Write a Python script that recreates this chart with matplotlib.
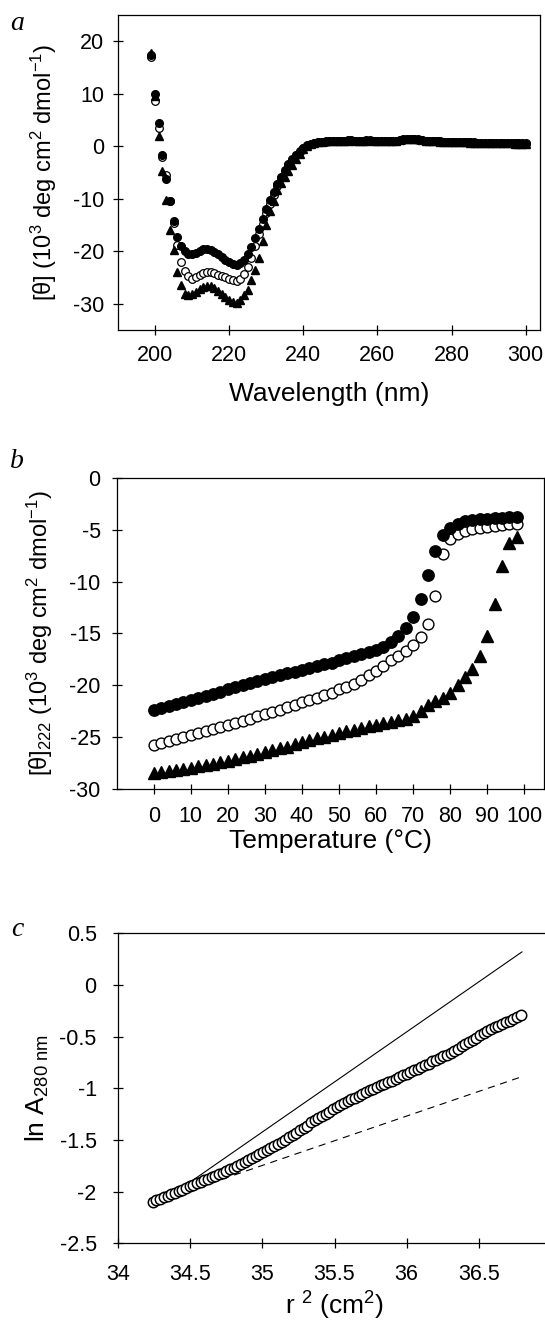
import numpy as np
import matplotlib
matplotlib.use('Agg')
import matplotlib.pyplot as plt
from matplotlib.ticker import FuncFormatter

plt.rcParams['font.family'] = ['Liberation Sans', 'DejaVu Sans']
plt.rcParams['mathtext.fontset'] = 'custom'
plt.rcParams['mathtext.rm'] = 'Liberation Sans'
plt.rcParams['mathtext.it'] = 'Liberation Sans:italic'
plt.rcParams['axes.unicode_minus'] = False

# ---- panel a: CD spectra ----
wavelength = np.arange(199, 301)
theta_filled = [17.4, 9.9, 4.4, -1.7, -6.3, -10.5, -14.3, -17.3, -19.0, -20.0,
                -20.5, -20.6, -20.3, -19.9, -19.6, -19.5, -19.7, -20.1, -20.6, -21.1,
                -21.6, -22.1, -22.5, -22.6, -22.3, -21.7, -20.6, -19.2, -17.5, -15.7,
                -13.8, -12.0, -10.3, -8.7, -7.2, -5.8, -4.5, -3.4, -2.4, -1.6,
                -0.9, -0.3, 0.2, 0.5, 0.7, 0.8,
                0.9, 1.0, 1.0, 1.1, 1.1, 1.1, 1.1, 1.2, 1.2, 1.1,
                1.1, 1.1, 1.2, 1.2, 1.1, 1.1, 1.1, 1.0, 1.0, 1.1,
                1.1, 1.2, 1.3, 1.3, 1.4, 1.4, 1.3, 1.2, 1.1, 1.1,
                1.0, 1.0, 1.0, 0.9, 0.9, 0.9, 0.9, 0.8, 0.8, 0.8,
                0.8, 0.8, 0.7, 0.7, 0.7, 0.7, 0.7, 0.7, 0.6, 0.6,
                0.6, 0.6, 0.6, 0.6, 0.6, 0.6]
theta_open = [17.0, 8.6, 3.5, -2.0, -5.5, -10.5, -14.6, -18.8, -22.0, -23.8,
              -24.8, -25.2, -25.0, -24.6, -24.2, -24.0, -24.0, -24.2, -24.5, -24.8,
              -25.0, -25.3, -25.5, -25.6, -25.2, -24.3, -23.0, -21.2, -19.0, -16.8,
              -14.8, -12.8, -11.0, -9.2, -7.6, -6.1, -4.8, -3.6, -2.6, -1.7,
              -1.0, -0.4, 0.1, 0.5, 0.7, 0.8,
              0.9, 0.9, 1.0, 1.0, 1.1, 1.1, 1.1, 1.1, 1.1, 1.1,
              1.1, 1.1, 1.1, 1.1, 1.1, 1.0, 1.0, 1.0, 1.0, 1.1,
              1.1, 1.2, 1.2, 1.3, 1.3, 1.3, 1.2, 1.2, 1.1, 1.0,
              1.0, 1.0, 0.9, 0.9, 0.9, 0.9, 0.8, 0.8, 0.8, 0.8,
              0.8, 0.7, 0.7, 0.7, 0.7, 0.7, 0.7, 0.6, 0.6, 0.6,
              0.6, 0.6, 0.6, 0.6, 0.5, 0.5]
theta_tri = [17.8, 9.5, 1.9, -4.8, -10.2, -16.0, -19.8, -23.9, -26.5, -28.1,
             -28.3, -28.2, -27.8, -27.2, -26.8, -26.6, -26.7, -27.0, -27.6, -28.2,
             -28.8, -29.3, -29.7, -29.8, -29.3, -28.4, -27.4, -25.5, -23.5, -21.2,
             -18.0, -15.0, -12.4, -10.4, -8.4, -7.0, -5.8, -4.8, -3.6, -2.5,
             -1.5, -0.6, 0.0, 0.4, 0.6, 0.8,
             0.9, 1.0, 1.0, 1.0, 1.1, 1.1, 1.1, 1.1, 1.2, 1.1,
             1.1, 1.1, 1.1, 1.2, 1.1, 1.1, 1.0, 1.0, 1.0, 1.1,
             1.1, 1.2, 1.3, 1.4, 1.4, 1.3, 1.3, 1.2, 1.1, 1.0,
             1.0, 1.0, 0.9, 0.9, 0.9, 0.9, 0.8, 0.8, 0.8, 0.8,
             0.7, 0.7, 0.7, 0.7, 0.7, 0.7, 0.6, 0.6, 0.6, 0.6,
             0.6, 0.6, 0.5, 0.5, 0.5, 0.5]

# ---- panel b: thermal melts at 222 nm ----
temperature = np.arange(0, 100, 2)
melt_filled = [-22.4, -22.2, -22.0, -21.8, -21.6, -21.4, -21.2, -21.0, -20.8, -20.6,
               -20.4, -20.2, -20.0, -19.8, -19.6, -19.4, -19.2, -19.0, -18.8, -18.7,
               -18.5, -18.3, -18.1, -17.9, -17.8, -17.6, -17.4, -17.2, -17.0, -16.8,
               -16.6, -16.3, -15.8, -15.2, -14.45, -13.45, -11.7, -9.35, -7.05, -5.55,
               -4.85, -4.4, -4.2, -4.1, -4.0, -3.95, -3.9, -3.85, -3.8, -3.75]
melt_open = [-25.8, -25.6, -25.4, -25.2, -25.0, -24.8, -24.6, -24.4, -24.2, -24.0,
             -23.8, -23.6, -23.4, -23.2, -23.0, -22.8, -22.6, -22.4, -22.1, -21.9,
             -21.6, -21.4, -21.2, -20.9, -20.7, -20.4, -20.2, -19.9, -19.5, -19.0,
             -18.6, -18.1, -17.6, -17.2, -16.7, -16.1, -15.3, -14.1, -11.4, -7.3,
             -5.9, -5.4, -5.1, -4.9, -4.8, -4.7, -4.6, -4.5, -4.45, -4.4]
melt_tri = [-28.5, -28.4, -28.3, -28.2, -28.1, -28.0, -27.8, -27.7, -27.6, -27.4,
            -27.3, -27.1, -26.9, -26.8, -26.6, -26.4, -26.2, -26.0, -25.9, -25.7,
            -25.5, -25.3, -25.1, -25.0, -24.8, -24.6, -24.4, -24.3, -24.1, -23.9,
            -23.8, -23.6, -23.5, -23.3, -23.2, -23.0, -22.5, -21.9, -21.5, -21.2,
            -20.7, -20.0, -19.2, -18.4, -17.2, -15.2, -12.2, -8.5, -6.3, -5.7]

# ---- panel c: sedimentation equilibrium ----
r2 = np.linspace(34.24, 36.79, 101)
lnA = [-2.10, -2.085, -2.07, -2.055, -2.04, -2.025, -2.01, -1.995, -1.98, -1.965,
       -1.95, -1.935, -1.92, -1.905, -1.89, -1.875, -1.86, -1.845, -1.83, -1.815,
       -1.80, -1.785, -1.77, -1.75, -1.73, -1.71, -1.69, -1.675, -1.655, -1.635,
       -1.62, -1.60, -1.58, -1.56, -1.54, -1.52, -1.50, -1.47, -1.45, -1.43,
       -1.40, -1.38, -1.36, -1.33, -1.31, -1.29, -1.27, -1.25, -1.23, -1.20,
       -1.18, -1.16, -1.14, -1.12, -1.105, -1.09, -1.07, -1.055, -1.04, -1.02,
       -1.005, -0.99, -0.97, -0.955, -0.94, -0.925, -0.91, -0.89, -0.875, -0.86,
       -0.84, -0.825, -0.81, -0.79, -0.775, -0.76, -0.74, -0.725, -0.71, -0.69,
       -0.675, -0.655, -0.635, -0.615, -0.59, -0.57, -0.55, -0.53, -0.51, -0.485,
       -0.465, -0.445, -0.43, -0.41, -0.395, -0.38, -0.36, -0.345, -0.325, -0.31,
       -0.29]
fit_r2 = [34.3, 36.8]
fit_dimer = [-2.10, 0.32]
fit_monomer = [-2.08, -0.887]

TICK_FS = 15.5
LABEL_FS = 19


def style(ax, xpad, ypad):
    for sp in ax.spines.values():
        sp.set_linewidth(0.9)
    ax.tick_params(direction='inout', length=7, width=0.9, labelsize=TICK_FS)
    ax.tick_params(axis='x', pad=xpad)
    ax.tick_params(axis='y', pad=ypad)


def fmt(v, pos):
    return '%g' % v


def panel_letter(y_px, letter):
    fig.text(17 / 545, 1 - y_px / 1321, letter, fontsize=20, style='italic',
             family='Liberation Serif', ha='center', va='center')


fig = plt.figure(figsize=(5.45, 13.21), dpi=100)

# panel a
ax = fig.add_axes([0.2165, 0.7502, 0.7752, 0.2384])
ax.plot(wavelength, theta_open, 'o', ms=5.5, mfc='white', mec='black', mew=0.9, ls='none')
ax.plot(wavelength, theta_tri, '^', ms=6, color='black', ls='none')
ax.plot(wavelength, theta_filled, 'o', ms=5.5, color='black', ls='none')
ax.set_xlim(190, 304)
ax.set_ylim(-35, 25)
ax.set_xticks(range(200, 301, 20))
ax.set_yticks(range(-30, 21, 10))
style(ax, 7.5, 6.5)
ax.set_xlabel('Wavelength (nm)', fontsize=LABEL_FS, labelpad=11)
ax.set_ylabel('[θ] (10$^3$ deg cm$^2$ dmol$^{-1}$)', fontsize=17, labelpad=10)
panel_letter(23, 'a')

# panel b
ax = fig.add_axes([0.2141, 0.4027, 0.7839, 0.2355])
ax.plot(temperature, melt_open, 'o', ms=7.8, mfc='white', mec='black', mew=1.0, ls='none')
ax.plot(temperature, melt_tri, '^', ms=9, color='black', ls='none')
ax.plot(temperature, melt_filled, 'o', ms=8.2, color='black', ls='none')
ax.set_xlim(-10, 105.3)
ax.set_ylim(-30, 0)
ax.set_xticks(range(0, 101, 10))
ax.set_yticks(range(-30, 1, 5))
style(ax, 9, 8)
ax.set_xlabel('Temperature (°C)', fontsize=LABEL_FS, labelpad=1)
ax.set_ylabel('[θ]$_{\\mathit{222}}$ (10$^3$ deg cm$^2$ dmol$^{-1}$)', fontsize=17, labelpad=10)
panel_letter(462, 'b')

# panel c
ax = fig.add_axes([0.2169, 0.0588, 0.7938, 0.2347])
ax.plot(fit_r2, fit_dimer, '-', color='black', lw=0.8, zorder=1)
ax.plot(fit_r2, fit_monomer, '--', color='black', lw=0.8, dashes=(6.5, 5), zorder=1)
ax.plot(r2, lnA, 'o', ms=7.5, mfc='white', mec='black', mew=1.1, ls='none', zorder=3)
ax.set_xlim(34, 37)
ax.set_ylim(-2.5, 0.5)
ax.set_xticks([34, 34.5, 35, 35.5, 36, 36.5])
ax.set_yticks([-2.5, -2, -1.5, -1, -0.5, 0, 0.5])
ax.xaxis.set_major_formatter(FuncFormatter(fmt))
ax.yaxis.set_major_formatter(FuncFormatter(fmt))
style(ax, 11.5, 12)
ax.set_xlabel('r $^2$ (cm$^2$)', fontsize=LABEL_FS, labelpad=3)
ax.set_ylabel('ln A$_{\\mathrm{280\\ nm}}$', fontsize=LABEL_FS, labelpad=6)
panel_letter(930, 'c')

fig.savefig('out.png', dpi=100)
